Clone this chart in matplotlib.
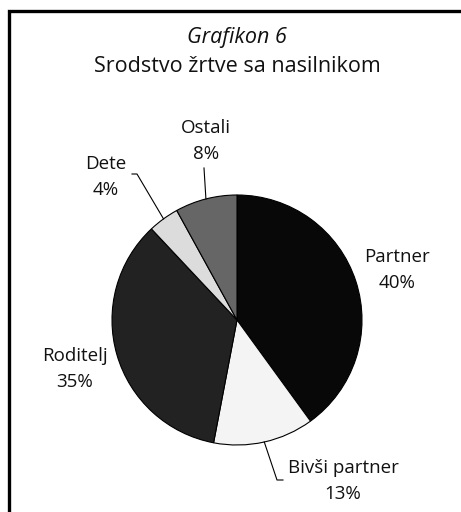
import numpy as np
import matplotlib
matplotlib.use("Agg")
import matplotlib.pyplot as plt

plt.rcParams['font.family'] = ['Open Sans', 'DejaVu Sans']

labels = ["Partner", "Bivši partner", "Roditelj", "Dete", "Ostali"]
shares = [40, 13, 35, 4, 8]
colors = ["#080808", "#f4f4f4", "#222222", "#dcdcdc", "#666666"]

W, H = 461, 512
fig = plt.figure(figsize=(W / 100, H / 100), dpi=100)
ax = fig.add_axes([0, 0, 1, 1])

# frame (only top/left edges are visible in the crop)
ax.plot([8.5, 8.5, W + 5], [H + 5, 10.5, 10.5], color="black", lw=2.4,
        solid_joinstyle="miter", clip_on=False)

cx, cy, r = 237, 320, 125
# y axis is inverted, so counterclock=True in data space draws clockwise on screen
wedges, _ = ax.pie(shares, colors=colors, startangle=-90, counterclock=True,
                   center=(cx, cy), radius=r, frame=True,
                   wedgeprops=dict(edgecolor="black", linewidth=0.8))
ax.set_xlim(0, W)
ax.set_ylim(H, 0)
ax.set_aspect("equal")
ax.axis("off")

ax.text(cx, 37, "Grafikon 6", ha="center", va="center", fontsize=15.5,
        style="italic", color="#111111")
ax.text(cx, 66, "Srodstvo žrtve sa nasilnikom", ha="center", va="center",
        fontsize=15.5, color="#111111")

# label placement (pixel coords) and optional leader elbows
label_pos = {
    "Partner": (397, 270),
    "Bivši partner": (343, 481),
    "Roditelj": (75, 369),
    "Dete": (106, 177),
    "Ostali": (206, 141),
}
leaders = {
    "Bivši partner": [(277, 480), (283, 480)],
    "Dete": [(137, 174), (132, 174)],
    "Ostali": [(204, 168)],
}

for w, lab, val in zip(wedges, labels, shares):
    ax.text(*label_pos[lab], f"{lab}\n{val}%", ha="center", va="center",
            fontsize=13.5, linespacing=1.6, color="#111111")
    if lab in leaders:
        mid = np.deg2rad((w.theta1 + w.theta2) / 2)
        x0 = cx + r * np.cos(mid)
        y0 = cy + r * np.sin(mid)
        pts = [(x0, y0)] + leaders[lab]
        ax.plot([p[0] for p in pts], [p[1] for p in pts], color="black",
                lw=0.8)

fig.savefig("out.png", dpi=100)
